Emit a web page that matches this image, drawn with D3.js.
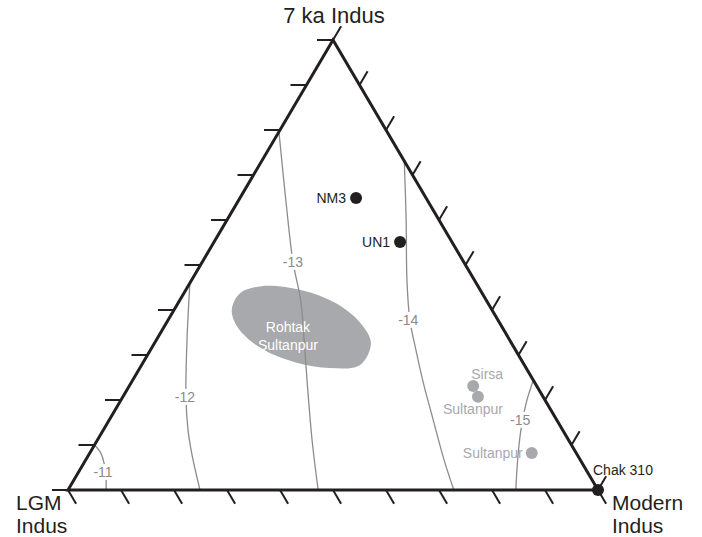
<!DOCTYPE html>
<html><head><meta charset="utf-8">
<script src="https://cdn.jsdelivr.net/npm/d3@7"></script>
<style>
body{margin:0;background:#fff}
svg{display:block}
text{font-family:"Liberation Sans",Arial,Helvetica,sans-serif}
</style>
</head><body>
<svg id="chart" width="702" height="537"></svg>
<script>
// ---------- DATA (ternary percentages: 7 ka Indus, LGM Indus, Modern Indus) ----------
const apexTop = "7 ka Indus";
const apexLeft = ["LGM", "Indus"];
const apexRight = ["Modern", "Indus"];
const tickValues = [0, 10, 20, 30, 40, 50, 60, 70, 80, 90, 100];

// black samples
const sampleNames = ["NM3", "UN1", "Chak 310"];
const sample7ka = [64.9, 55.1, 0];
const sampleLGM = [13.2, 9.8, 0];
const sampleModern = [21.9, 35.1, 100];

// grey comparison samples
const otherNames = ["Sirsa", "Sultanpur", "Sultanpur"];
const other7ka = [23.1, 20.7, 8.2];
const otherLGM = [12.0, 12.3, 8.4];
const otherModern = [64.9, 67.0, 83.4];

// Rohtak / Sultanpur field outline
const fieldLabel = ["Rohtak", "Sultanpur"];
const field7ka = [40.0, 43.8, 45.3, 44.4, 41.6, 37.3, 32.7, 27.8, 27.1, 28.4, 31.6, 36.0];
const fieldModern = [10.9, 10.6, 13.9, 21.9, 29.6, 36.4, 40.8, 41.2, 35.9, 28.6, 20.5, 14.1];
const fieldLabelAt = [35.0, 24.0];

// isolines (eNd values)
const contourLevels = ["-11", "-12", "-13", "-14", "-15"];
const contour7ka = [
  [10, 8.2, 6.0, 3.3, 0],
  [46, 33.3, 20.7, 13.3, 7.8, 0],
  [79.6, 64.4, 50.7, 42.2, 33.3, 24.4, 11.1, 0],
  [73.1, 60, 46.7, 37.8, 31.1, 23.3, 16.7, 6.7, 0],
  [24.4, 20, 14.4, 10, 4.4, 0]
];
const contourModern = [
  [0, 2.1, 3.8, 5.5, 7.2],
  [0, 5.8, 11.9, 16.0, 19.5, 24.9],
  [0, 8.9, 17.1, 22.8, 27.9, 32.9, 40.5, 47.2],
  [26.9, 33.8, 40.6, 45.6, 50.1, 55.5, 60.3, 67.6, 72.8],
  [75.6, 76.6, 78.4, 80.1, 82.5, 84.5]
];
const contourLabel7ka = [4.0, 20.7, 50.7, 37.8, 15.6];
const contourLabelModern = [4.6, 11.7, 17.1, 45.3, 77.5];

// ---------- RENDER ----------
const svg = d3.select("#chart");
const X = d3.scaleLinear().domain([0, 100]).range([68, 598]);
const Y = d3.scaleLinear().domain([0, 100]).range([490, 40]);
const pos = (a, c) => [X(c + a / 2), Y(a)];

const ink = "#231f20";
const grey = "#a7a9ac";
const contourCol = "#8c8c8c";
const labelGrey = "#8a8a8a";

// field
const closed = d3.line().curve(d3.curveCatmullRomClosed.alpha(0.5));
svg.append("path")
  .attr("d", closed(field7ka.map((a, i) => pos(a, fieldModern[i]))))
  .attr("fill", grey).attr("stroke", "none");

// contours
const open = d3.line().curve(d3.curveCatmullRom.alpha(0.5));
contourLevels.forEach((lv, k) => {
  svg.append("path")
    .attr("d", open(contour7ka[k].map((a, i) => pos(a, contourModern[k][i]))))
    .attr("fill", "none").attr("stroke", contourCol).attr("stroke-width", 1.3);
});
contourLevels.forEach((lv, k) => {
  const p = pos(contourLabel7ka[k], contourLabelModern[k]);
  svg.append("rect").attr("x", p[0] - 11).attr("y", p[1] - 8).attr("width", 22).attr("height", 16).attr("fill", "#fff");
  svg.append("text").attr("x", p[0]).attr("y", p[1] + 5).attr("text-anchor", "middle")
    .attr("font-size", 14).attr("fill", labelGrey).text(lv);
});

// field label
const fl = pos(fieldLabelAt[0], fieldLabelAt[1]);
const flt = svg.append("text").attr("text-anchor", "middle").attr("font-size", 14).attr("fill", "#fff");
fieldLabel.forEach((t, i) => flt.append("tspan").attr("x", fl[0]).attr("y", fl[1] - 1 + i * 18).text(t));

// ticks
const T = pos(100, 0), L = pos(0, 0), R = pos(0, 100);
const unit = (p, q) => { const dx = q[0] - p[0], dy = q[1] - p[1], n = Math.hypot(dx, dy); return [dx / n, dy / n]; };
const dirBottom = unit(T, R);   // down-right
const dirRight = unit(L, T);    // up-right
const tl = 16;
const ticks = svg.append("g").attr("stroke", ink).attr("stroke-width", 2);
tickValues.forEach(v => {
  const pl = pos(v, 0);
  ticks.append("line").attr("x1", pl[0]).attr("y1", pl[1]).attr("x2", pl[0] - tl).attr("y2", pl[1]);
  const pb = pos(0, v);
  ticks.append("line").attr("x1", pb[0]).attr("y1", pb[1]).attr("x2", pb[0] + tl * dirBottom[0]).attr("y2", pb[1] + tl * dirBottom[1]);
  const pr = pos(v, 100 - v);
  ticks.append("line").attr("x1", pr[0]).attr("y1", pr[1]).attr("x2", pr[0] + tl * dirRight[0]).attr("y2", pr[1] + tl * dirRight[1]);
});

// triangle
svg.append("path")
  .attr("d", d3.line()([T, L, R]) + "Z")
  .attr("fill", "none").attr("stroke", ink).attr("stroke-width", 3).attr("stroke-linejoin", "miter");

// grey samples
otherNames.forEach((n, i) => {
  const p = pos(other7ka[i], otherModern[i]);
  svg.append("circle").attr("cx", p[0]).attr("cy", p[1]).attr("r", 6).attr("fill", grey);
});
const o0 = pos(other7ka[0], otherModern[0]);
svg.append("text").attr("x", o0[0] + 14).attr("y", o0[1] - 7).attr("text-anchor", "middle")
  .attr("font-size", 14).attr("fill", grey).text(otherNames[0]);
const o1 = pos(other7ka[1], otherModern[1]);
svg.append("text").attr("x", o1[0] - 5).attr("y", o1[1] + 17).attr("text-anchor", "middle")
  .attr("font-size", 14).attr("fill", grey).text(otherNames[1]);
const o2 = pos(other7ka[2], otherModern[2]);
svg.append("text").attr("x", o2[0] - 9).attr("y", o2[1] + 5).attr("text-anchor", "end")
  .attr("font-size", 14).attr("fill", grey).text(otherNames[2]);

// black samples
sampleNames.forEach((n, i) => {
  const p = pos(sample7ka[i], sampleModern[i]);
  svg.append("circle").attr("cx", p[0]).attr("cy", p[1]).attr("r", 6).attr("fill", ink);
  if (sampleModern[i] === 100) {
    svg.append("text").attr("x", p[0] - 5).attr("y", p[1] - 15).attr("font-size", 14).attr("fill", ink).text(n);
  } else {
    svg.append("text").attr("x", p[0] - 10).attr("y", p[1] + 5).attr("text-anchor", "end")
      .attr("font-size", 14).attr("fill", ink).text(n);
  }
});

// apex labels
svg.append("text").attr("x", T[0] + 1).attr("y", 23).attr("text-anchor", "middle")
  .attr("font-size", 22).attr("fill", ink).text(apexTop);
apexLeft.forEach((t, i) => svg.append("text").attr("x", 16).attr("y", 510 + i * 23)
  .attr("font-size", 21).attr("fill", ink).text(t));
apexRight.forEach((t, i) => svg.append("text").attr("x", 612).attr("y", 510 + i * 23)
  .attr("font-size", 21).attr("fill", ink).text(t));
</script>
</body></html>
